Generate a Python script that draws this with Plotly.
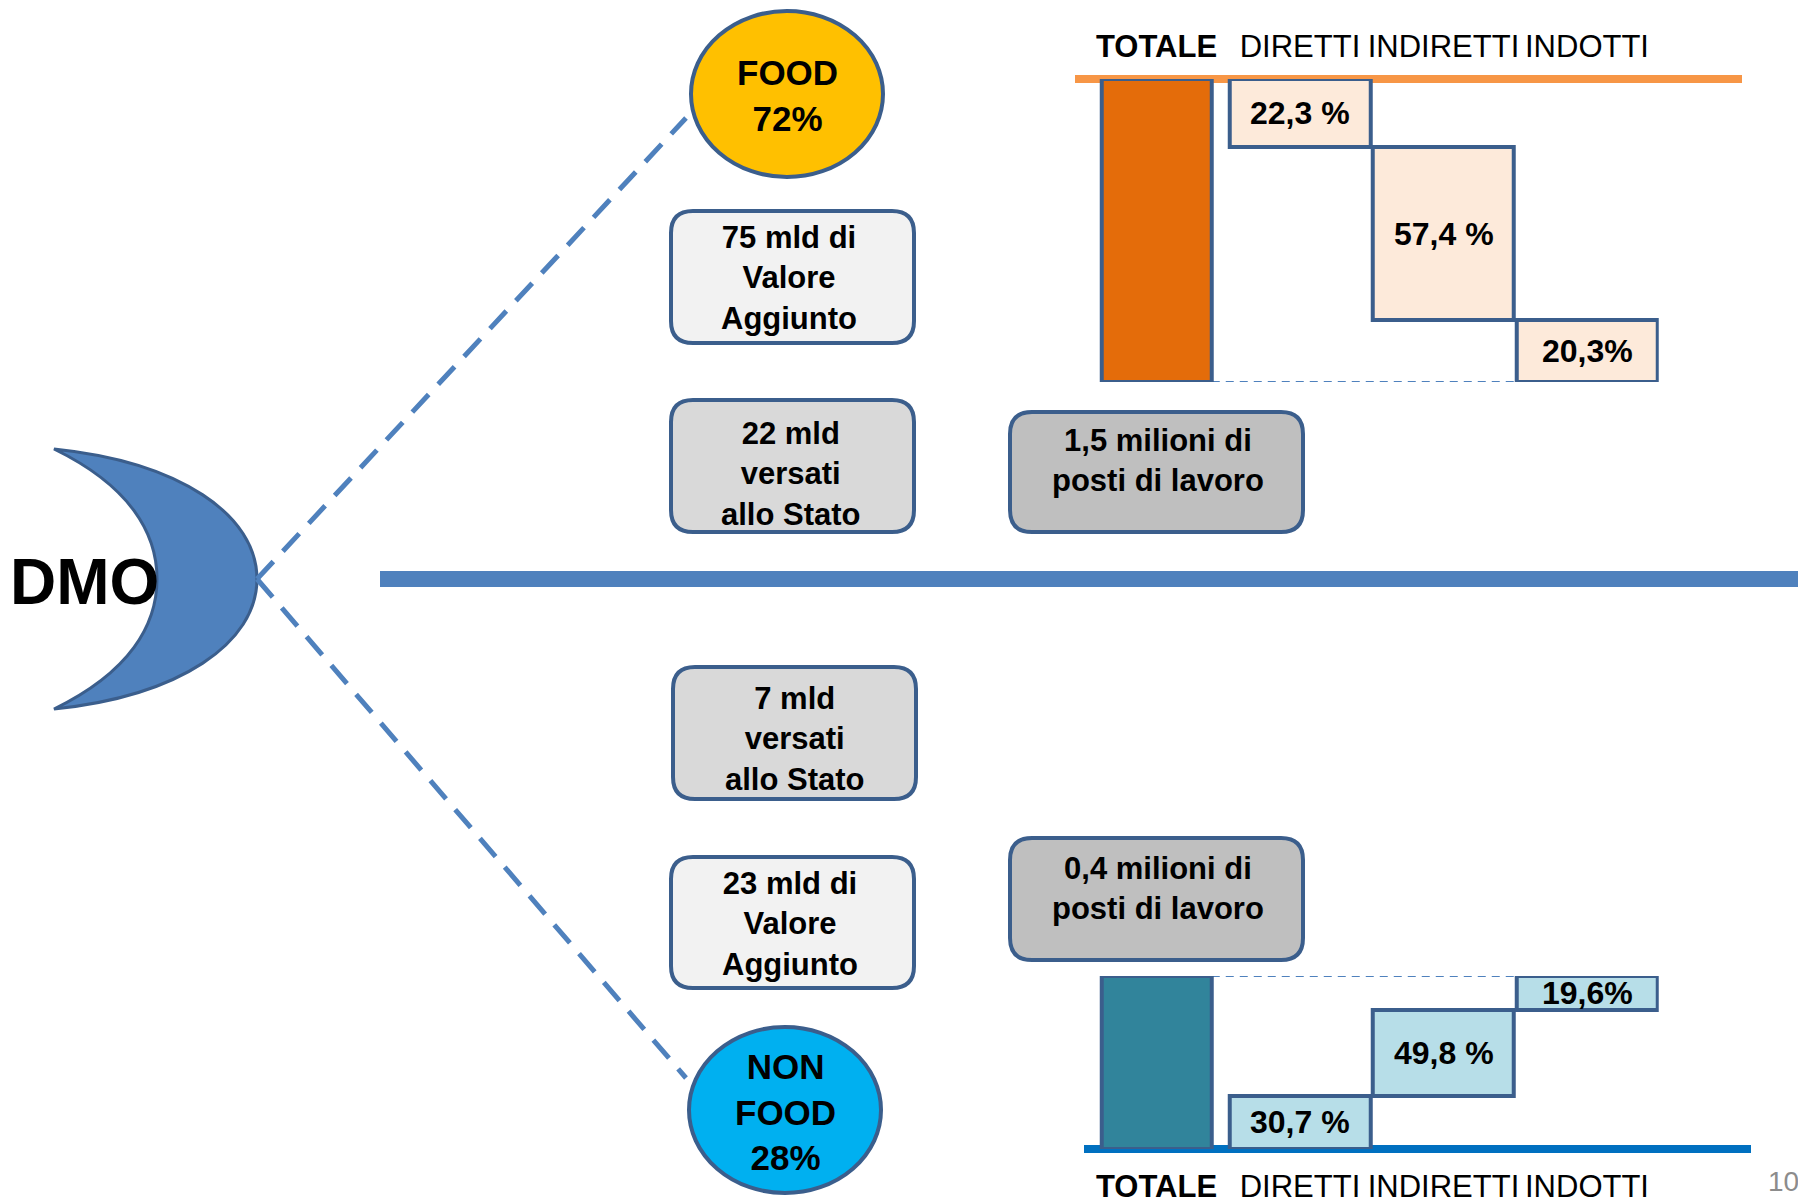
import plotly.graph_objects as go

W, H = 1798, 1203

# ---------------- data ----------------
categories = ["TOTALE", "DIRETTI", "INDIRETTI", "INDOTTI"]
tick_labels = ["<b>TOTALE</b>", "DIRETTI", "INDIRETTI", "INDOTTI"]
food_values = [100, 22.3, 57.4, 20.3]
food_labels = ["", "22,3 %", "57,4 %", "20,3%"]
nonfood_values = [100, 30.7, 49.8, 19.6]
nonfood_labels = ["", "30,7 %", "49,8 %", "19,6%"]
food_share = ["FOOD", "72%"]
nonfood_share = ["NON", "FOOD", "28%"]
food_boxes = [["75 mld di", "Valore", "Aggiunto"],
              ["22 mld", "versati", "allo Stato"],
              ["1,5 milioni di", "posti di lavoro"]]
nonfood_boxes = [["7 mld", "versati", "allo Stato"],
                 ["23 mld di", "Valore", "Aggiunto"],
                 ["0,4 milioni di", "posti di lavoro"]]
brand = "DMO"
page_number = "10"

# ---------------- style ----------------
SANS = "Liberation Sans, Arial, sans-serif"
EDGE = "#3B5E8C"
BLUE = "#4F81BD"
bar_width = [0.77, 0.98, 0.98, 0.98]
food_colors = ["#E46C0A", "#FDEADA", "#FDEADA", "#FDEADA"]
nonfood_colors = ["#31849B", "#B7DEE8", "#B7DEE8", "#B7DEE8"]

# waterfall bases
food_bases = [0]
run = food_values[0]
for v in food_values[1:]:
    run -= v
    food_bases.append(max(run, 0))
nonfood_bases = [0]
run = 0
for v in nonfood_values[1:]:
    nonfood_bases.append(run)
    run += v

fig = go.Figure()

# invisible trace to activate the full-page pixel axes
fig.add_trace(go.Scatter(x=[0, W], y=[0, H], mode="markers",
                         marker=dict(opacity=0), hoverinfo="skip",
                         showlegend=False, xaxis="x", yaxis="y"))

fig.add_trace(go.Bar(x=categories, y=food_values, base=food_bases, width=bar_width,
                     marker=dict(color=food_colors, line=dict(color=EDGE, width=4)),
                     showlegend=False, hoverinfo="skip", xaxis="x2", yaxis="y2"))
fig.add_trace(go.Bar(x=categories, y=nonfood_values, base=nonfood_bases, width=bar_width,
                     marker=dict(color=nonfood_colors, line=dict(color=EDGE, width=4)),
                     showlegend=False, hoverinfo="skip", xaxis="x3", yaxis="y3"))

shapes = []
annotations = []


def rrect(x0, y0, x1, y1, r):
    return (f"M {x0+r},{y0} L {x1-r},{y0} Q {x1},{y0} {x1},{y0+r} "
            f"L {x1},{y1-r} Q {x1},{y1} {x1-r},{y1} L {x0+r},{y1} "
            f"Q {x0},{y1} {x0},{y1-r} L {x0},{y0+r} Q {x0},{y0} {x0+r},{y0} Z")


# crescent
crescent = ("M 54,449 C 180,462 257,515 257,579 C 257,643 180,696 54,709 "
            "C 130,672 157,625 157,579 C 157,533 130,486 54,449 Z")
shapes.append(dict(type="path", xref="x", yref="y", path=crescent,
                   fillcolor=BLUE, line=dict(color=EDGE, width=3)))

# dashed connectors
shapes.append(dict(type="line", xref="x", yref="y", x0=257, y0=579, x1=686, y1=118,
                   line=dict(color=BLUE, width=5, dash="24px,14px")))
shapes.append(dict(type="line", xref="x", yref="y", x0=257, y0=579, x1=686, y1=1078,
                   line=dict(color=BLUE, width=5, dash="24px,14px")))

# divider
shapes.append(dict(type="line", xref="x", yref="y", x0=380, y0=579, x1=W, y1=579,
                   line=dict(color=BLUE, width=16)))

# ellipses
shapes.append(dict(type="circle", xref="x", yref="y", x0=691, x1=883, y0=11, y1=177,
                   fillcolor="#FFC000", line=dict(color=EDGE, width=4)))
shapes.append(dict(type="circle", xref="x", yref="y", x0=689, x1=881, y0=1027, y1=1193,
                   fillcolor="#00B0F0", line=dict(color=EDGE, width=4)))

# orange and blue base lines
shapes.append(dict(type="line", xref="x", yref="y", x0=1075, x1=1742, y0=79, y1=79,
                   layer="below", line=dict(color="#F79646", width=8)))
shapes.append(dict(type="line", xref="x", yref="y", x0=1084, x1=1751, y0=1149, y1=1149,
                   layer="below", line=dict(color="#0070C0", width=8)))

# waterfall dashed guide lines
shapes.append(dict(type="line", xref="x2", yref="y2", x0=0.385, x1=2.51, y0=0, y1=0,
                   layer="below", line=dict(color=BLUE, width=2, dash="8px,6px")))
shapes.append(dict(type="line", xref="x3", yref="y3", x0=0.385, x1=2.51, y0=100, y1=100,
                   layer="below", line=dict(color=BLUE, width=2, dash="8px,6px")))

# rounded boxes
boxes = [
    (671, 211, 914, 343, "#F2F2F2", food_boxes[0], 789, 278),
    (671, 400, 914, 532, "#D9D9D9", food_boxes[1], 791, 474),
    (1010, 412, 1303, 532, "#BFBFBF", food_boxes[2], 1158, 460),
    (673, 667, 916, 799, "#D9D9D9", nonfood_boxes[0], 795, 739),
    (671, 857, 914, 988, "#F2F2F2", nonfood_boxes[1], 790, 924),
    (1010, 838, 1303, 960, "#BFBFBF", nonfood_boxes[2], 1158, 888),
]
for x0, y0, x1, y1, col, lines, cx, cy in boxes:
    shapes.append(dict(type="path", xref="x", yref="y", path=rrect(x0, y0, x1, y1, 22),
                       fillcolor=col, line=dict(color=EDGE, width=4)))
    annotations.append(dict(x=cx, y=cy, xref="x", yref="y", text="<br>".join(lines),
                            showarrow=False, xanchor="center", yanchor="middle",
                            font=dict(family=SANS, size=31, color="black", weight="bold")))

# ellipse texts
annotations.append(dict(x=787, y=95, xref="x", yref="y", text="<br>".join(food_share),
                        showarrow=False,
                        font=dict(family=SANS, size=35, color="black", weight="bold")))
annotations.append(dict(x=785, y=1112, xref="x", yref="y", text="<br>".join(nonfood_share),
                        showarrow=False,
                        font=dict(family=SANS, size=35, color="black", weight="bold")))

# DMO
annotations.append(dict(x=8, y=582, xref="x", yref="y", text=brand, showarrow=False,
                        xanchor="left", font=dict(family=SANS, size=64, color="black", weight="bold")))
# page number
annotations.append(dict(x=1766, y=1181, xref="x", yref="y", text=page_number, showarrow=False,
                        xanchor="left", font=dict(family=SANS, size=28, color="#8C8C8C")))

# bar labels
for i in range(1, 4):
    annotations.append(dict(x=categories[i], y=food_bases[i] + food_values[i] / 2,
                            xref="x2", yref="y2", text=food_labels[i], showarrow=False,
                            font=dict(family=SANS, size=32, color="black", weight="bold")))
    annotations.append(dict(x=categories[i], y=nonfood_bases[i] + nonfood_values[i] / 2,
                            xref="x3", yref="y3", text=nonfood_labels[i], showarrow=False,
                            font=dict(family=SANS, size=32, color="black", weight="bold")))

xdom = [1084.75 / W, 1658.75 / W]
axis_common = dict(type="category", range=[-0.5, 3.5], tickvals=categories,
                   ticktext=tick_labels, ticks="", showgrid=False, zeroline=False,
                   showline=False, tickangle=0, automargin=False, fixedrange=True,
                   tickfont=dict(family=SANS, size=31, color="black"))
fig.update_layout(
    width=W, height=H,
    margin=dict(l=0, r=0, t=0, b=0, autoexpand=False),
    paper_bgcolor="white", plot_bgcolor="rgba(0,0,0,0)",
    showlegend=False, bargap=0,
    xaxis=dict(range=[0, W], domain=[0, 1], visible=False, fixedrange=True),
    yaxis=dict(range=[H, 0], domain=[0, 1], visible=False, fixedrange=True),
    xaxis2=dict(domain=xdom, anchor="y2", side="top", ticklabelstandoff=15, **axis_common),
    yaxis2=dict(domain=[(H - 382) / H, (H - 79) / H], anchor="x2", range=[0, 100],
                visible=False, fixedrange=True),
    xaxis3=dict(domain=xdom, anchor="y3", side="bottom", ticklabelstandoff=16, **axis_common),
    yaxis3=dict(domain=[(H - 1149) / H, (H - 976) / H], anchor="x3", range=[0, 100],
                visible=False, fixedrange=True),
    shapes=shapes,
    annotations=annotations,
)

fig.write_html("out.html", config={"displayModeBar": False},
               post_script="document.body.style.margin='0';document.body.style.overflow='hidden';")
